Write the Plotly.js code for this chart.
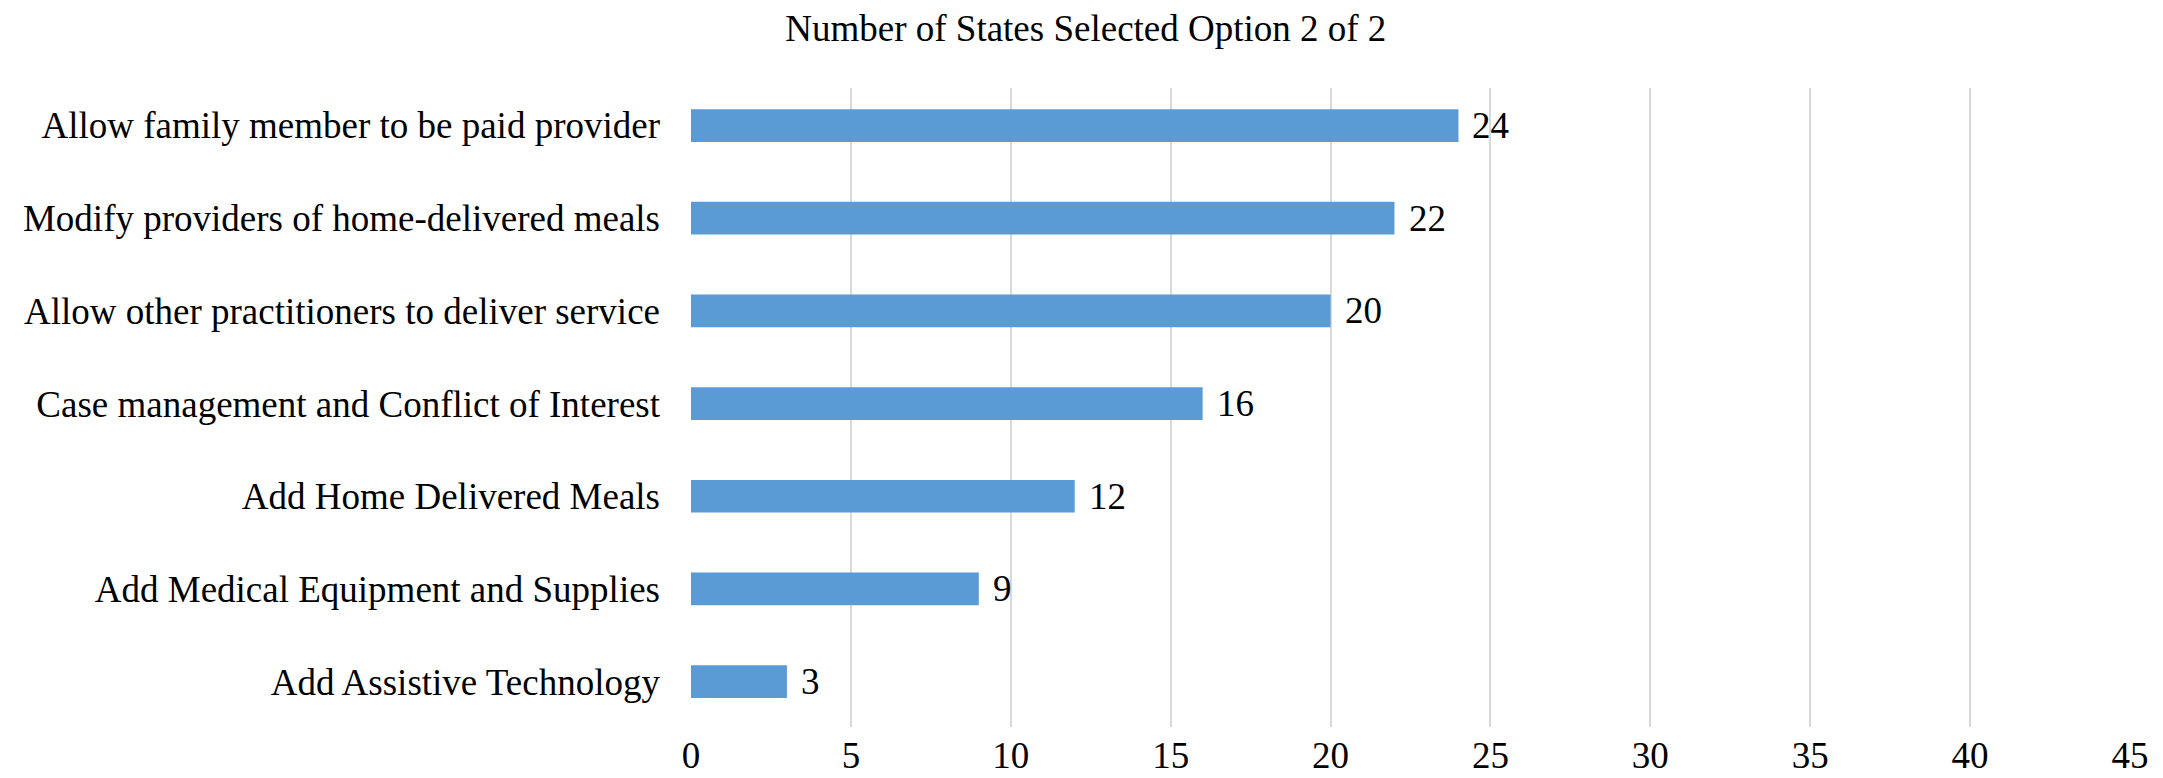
<!DOCTYPE html>
<html>
<head>
<meta charset="utf-8">
<script src="https://cdn.plot.ly/plotly-3.0.1.min.js"></script>
<style>html,body{margin:0;padding:0;background:#fff;}#chart{width:2163px;height:778px;}</style>
</head>
<body>
<div id="chart"></div>
<script>
// Data (bottom to top, as drawn on the category axis)
var categories = [
  "Add Assistive Technology",
  "Add Medical Equipment and Supplies",
  "Add Home Delivered Meals",
  "Case management and Conflict of Interest",
  "Allow other practitioners to deliver service",
  "Modify providers of home-delivered meals",
  "Allow family member to be paid provider"
];
var values = [3, 9, 12, 16, 20, 22, 24];
var xTickValues = [0, 5, 10, 15, 20, 25, 30, 35, 40, 45];
var chartTitle = "Number of States Selected Option 2 of 2";

var FONT = "Liberation Serif, Times New Roman, serif";
var FS = 37;

var trace = {
  type: "bar",
  orientation: "h",
  x: values,
  y: categories,
  width: 0.353,
  marker: {color: "#5B9BD5", line: {width: 0}},
  hoverinfo: "none"
};

var annotations = values.map(function (v, i) {
  return {
    x: v, y: categories[i], xref: "x", yref: "y",
    text: String(v), showarrow: false,
    xanchor: "left", yanchor: "middle", xshift: 12,
    font: {family: FONT, size: FS, color: "#000"}
  };
});

var layout = {
  width: 2163, height: 778,
  margin: {l: 691, r: 33, t: 88, b: 51, pad: 0},
  paper_bgcolor: "#fff", plot_bgcolor: "#fff",
  showlegend: false,
  font: {family: FONT, size: FS, color: "#000"},
  title: {
    text: chartTitle,
    font: {family: FONT, size: FS, color: "#000"},
    xref: "container", yref: "container",
    x: 0.502, xanchor: "center", y: 0.9645, yanchor: "middle"
  },
  xaxis: {
    range: [0, 45],
    tickvals: xTickValues,
    ticktext: xTickValues.map(String),
    showgrid: true, gridcolor: "#D9D9D9", gridwidth: 2,
    zeroline: false, showline: false, ticks: "",
    ticklabelstandoff: 3,
    tickfont: {family: FONT, size: FS, color: "#000"},
    fixedrange: true
  },
  yaxis: {
    type: "category",
    categoryorder: "array", categoryarray: categories,
    range: [-0.49, 6.405],
    showgrid: false, zeroline: false, showline: false, ticks: "",
    ticklabelstandoff: 30,
    tickfont: {family: FONT, size: FS, color: "#000"},
    fixedrange: true
  },
  annotations: annotations
};

Plotly.newPlot("chart", [trace], layout, {displayModeBar: false, staticPlot: true});
</script>
</body>
</html>
